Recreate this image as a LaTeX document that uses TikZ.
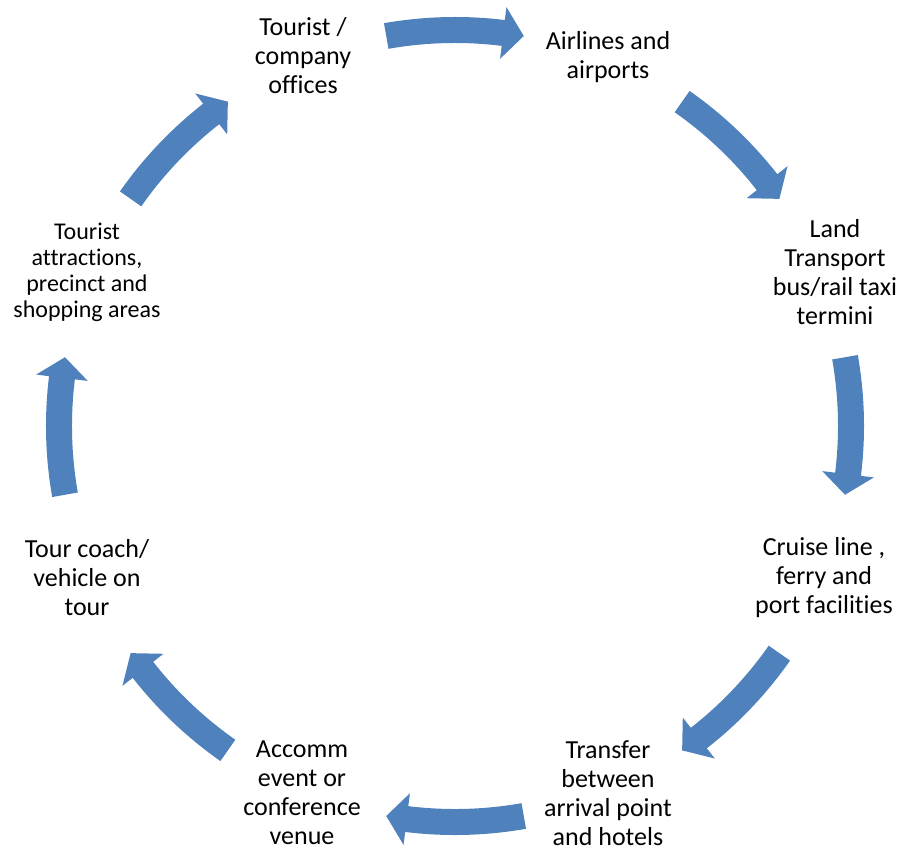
\documentclass[tikz,border=0pt]{standalone}
\usepackage{fontspec}
\setmainfont[Ligatures=NoCommon]{Carlito}
\definecolor{cycleblue}{HTML}{4F81BD}
\tikzset{
  stage/.style={align=center, inner sep=0.75pt, font=\fontsize{19.5}{21.75}\selectfont},
  smallstage/.style={stage, font=\fontsize{18}{19.5}\selectfont},
  cyclearrow/.style={fill=cycleblue, draw=none}
}

\begin{document}
\begin{tikzpicture}[x=0.75pt,y=0.75pt]
	\useasboundingbox (-455,-424) rectangle (443,426);
	% centre of the cycle
	\coordinate (c) at (0,0);

	% Text Node
	\node[stage] (offices) at (-152,370) {Tourist /\\company\\offices};
	% Text Node
	\node[stage] (airlines) at (153,369) {Airlines and\\airports};
	% Text Node
	\node[stage] (land) at (380,154) {Land\\Transport\\bus/rail taxi\\termini};
	% Text Node
	\node[stage] (cruise) at (369,-152) {Cruise line ,\\ferry and\\port facilities};
	% Text Node
	\node[stage] (transfer) at (153,-367) {Transfer\\between\\arrival point\\and hotels};
	% Text Node
	\node[stage] (accomm) at (-153,-367) {Accomm\\event or\\conference\\venue};
	% Text Node
	\node[stage] (coach) at (-368,-152) {Tour coach/\\vehicle on\\tour};
	% Text Node
	\node[smallstage] (attractions) at (-368,154) {Tourist\\attractions,\\precinct and\\shopping areas};

	% Curved arrows between the stages
	\foreach \a in {90,45,0,-45,-90,-135,-180,-225}{
		\fill[cyclearrow] (c) ++({\a+10}:409) arc[start angle=\a+10, end angle=\a-7, radius=409]
			-- ({\a-7}:422) -- ({\a-10}:396) -- ({\a-7}:370) -- ({\a-7}:383)
			arc[start angle=\a-7, end angle=\a+10, radius=383] -- cycle;
	}
\end{tikzpicture}
\end{document}
